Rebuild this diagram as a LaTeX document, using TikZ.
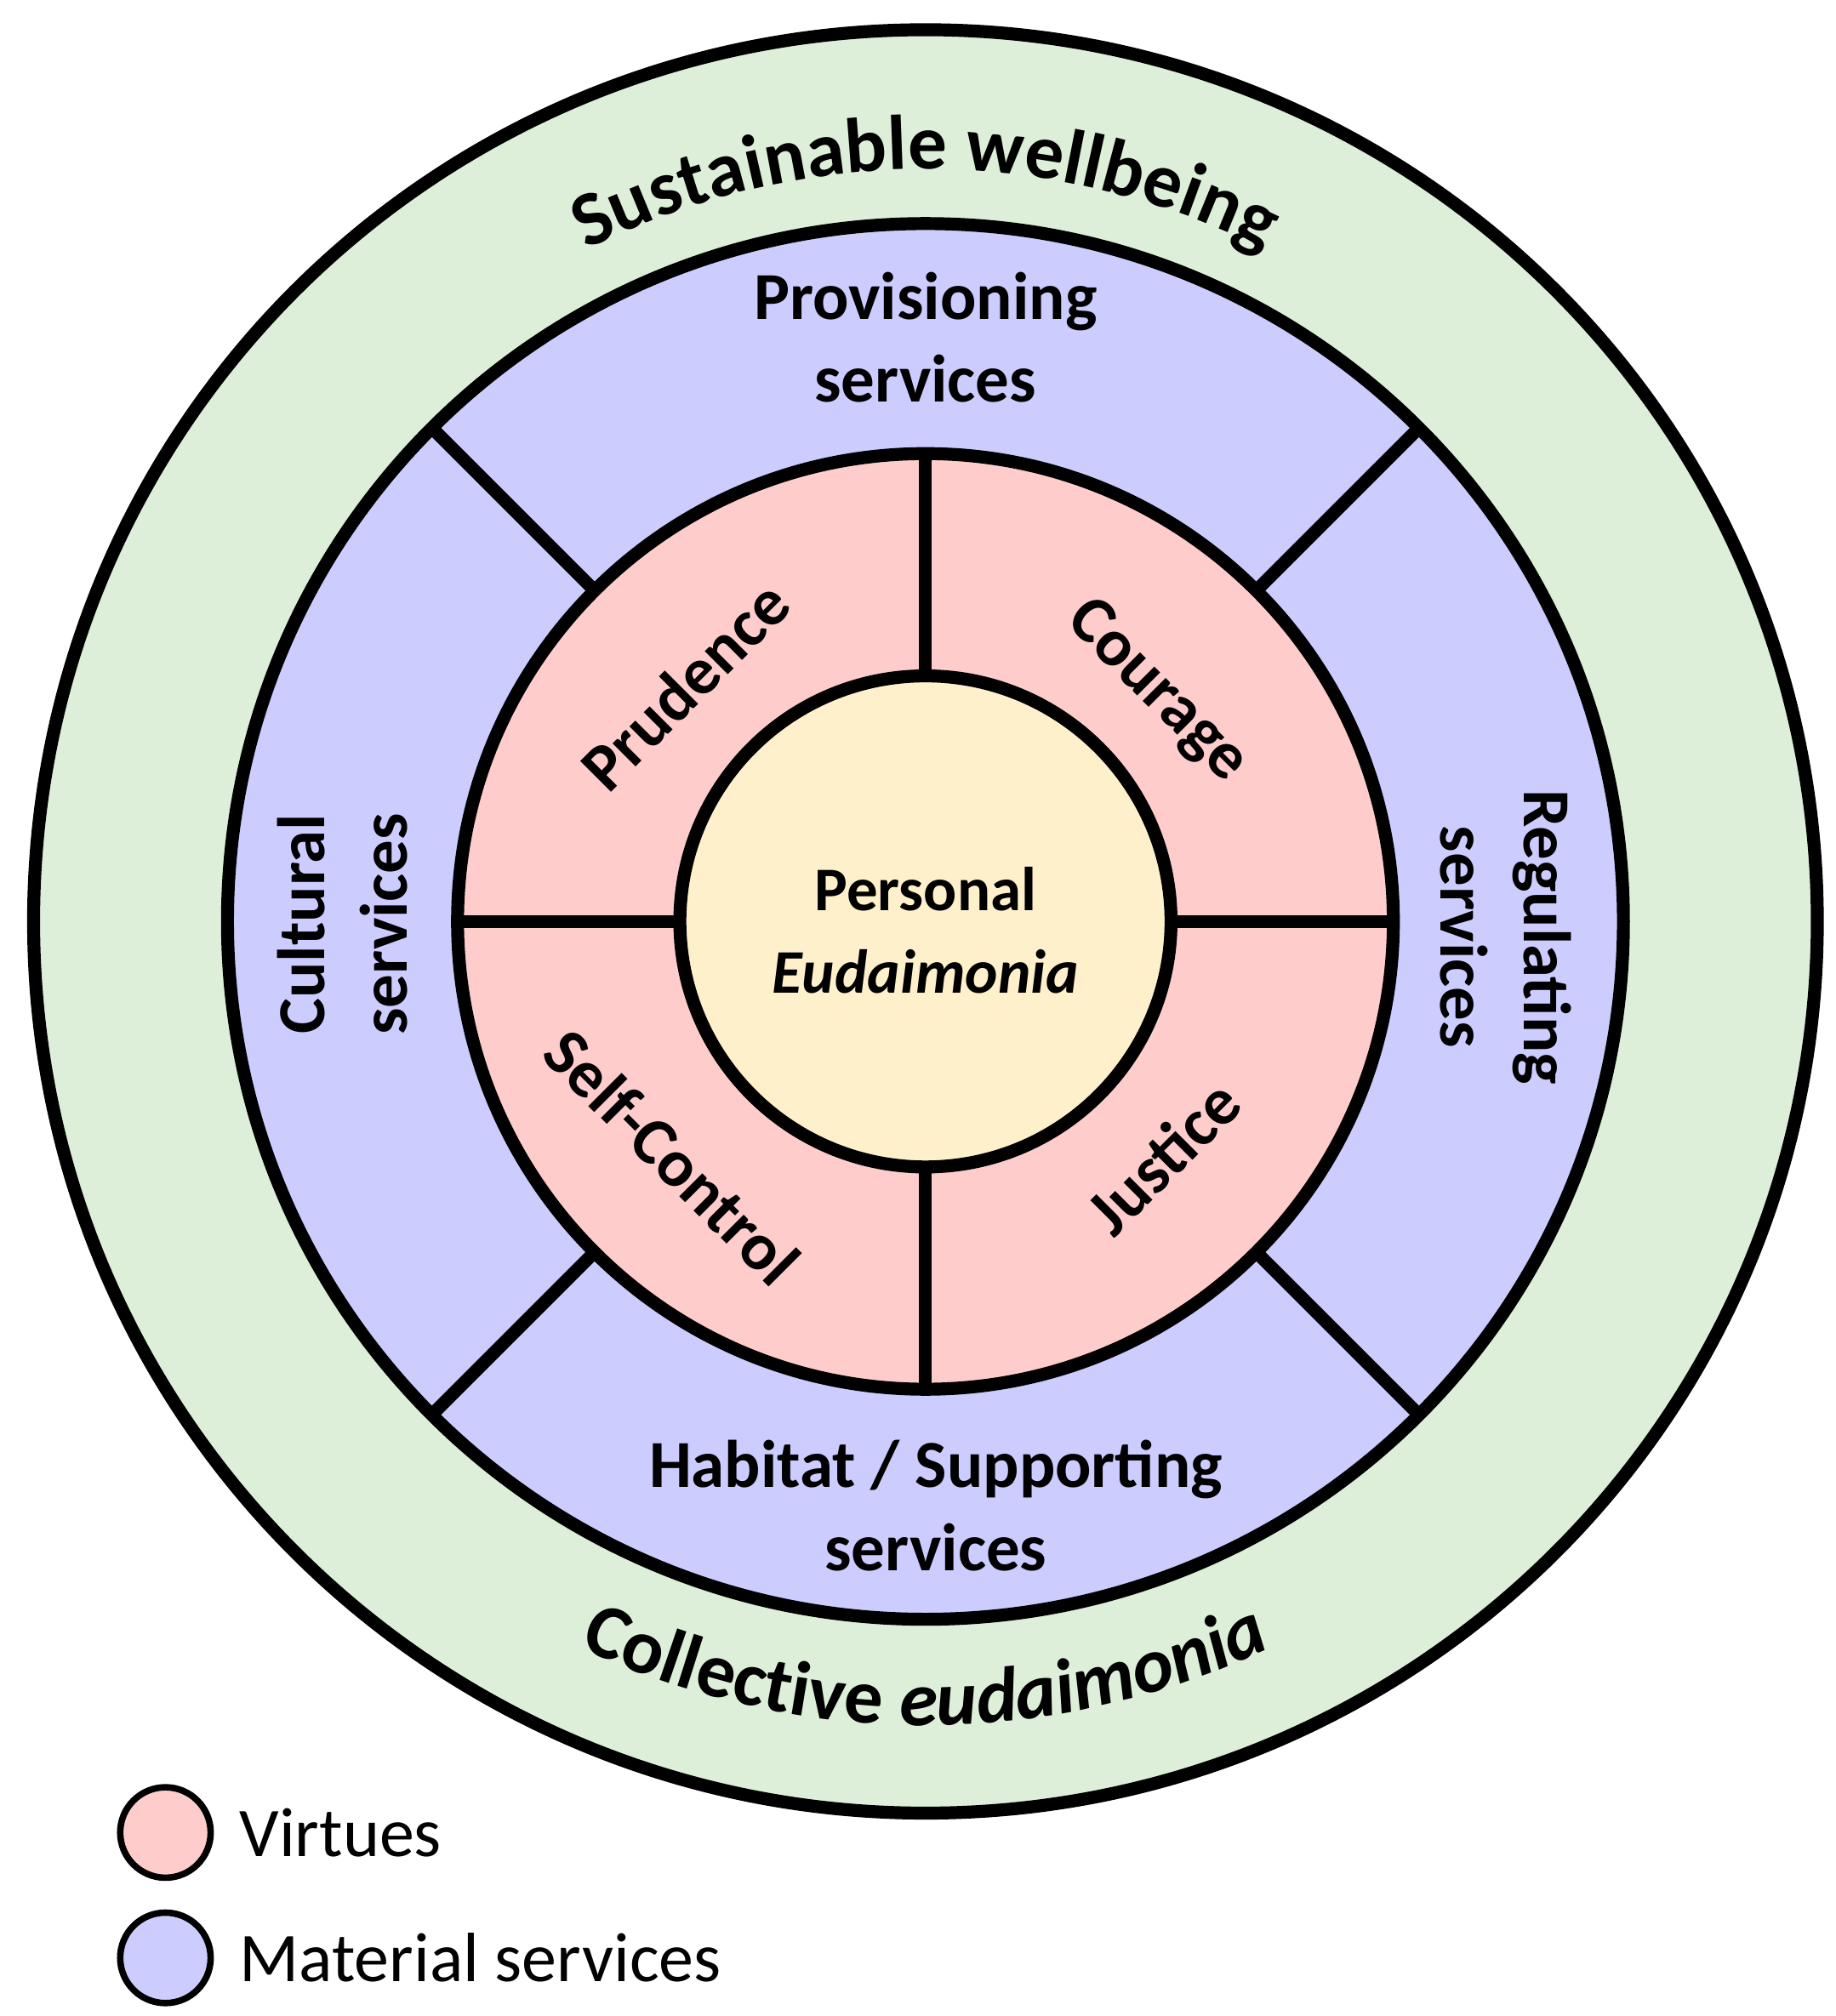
\documentclass[tikz,border=0pt]{standalone}
\usepackage{fontspec}
\setmainfont{Carlito}
\usetikzlibrary{decorations.text}
\definecolor{ringgreen}{RGB}{221,239,217}
\definecolor{ringblue}{RGB}{204,204,255}
\definecolor{ringred}{RGB}{255,204,204}
\definecolor{ringyellow}{RGB}{255,240,204}
\begin{document}
\begin{tikzpicture}[x=1pt,y=1pt
	,ring/.style={draw=black,line width=5pt}
	,divider/.style={draw=black,line width=5pt}
	,lbl/.style={font=\fontsize{26}{32}\selectfont\bfseries,align=center,inner sep=0pt}
	,legtext/.style={font=\fontsize{27}{32}\selectfont,anchor=west,inner sep=0pt}
	]
	\useasboundingbox (-358,356.5) rectangle (352,-423.5);
	% rings
	\draw[ring,fill=ringgreen] (0,0) circle (345);
	\draw[ring,fill=ringblue] (0,0) circle (270);
	\draw[ring,fill=ringred] (0,0) circle (181);
	\foreach \a in {45,135,225,315}
		\draw[divider] (\a:181) -- (\a:270);
	\foreach \a in {0,90,180,270}
		\draw[divider] (\a:95) -- (\a:181);
	\draw[ring,fill=ringyellow] (0,0) circle (95);
	% curved labels
	\path[decorate,decoration={text along path,text align=center,
		text={|\fontsize{30}{36}\selectfont\bfseries|Sustainable wellbeing}}]
		(160:291) arc (160:20:291);
	\path[decorate,decoration={text along path,text align=center,
		text={|\fontsize{30}{36}\selectfont\bfseries|Collective |\fontsize{30}{36}\selectfont\bfseries\itshape|eudaimonia}}]
		(203:311) arc (203:337:311);
	% services
	\node[lbl] (prov) at (0,226) {Provisioning\\services};
	\node[lbl,rotate=-90] (regul) at (224.5,-6) {Regulating\\services};
	\node[lbl,rotate=90] (cult) at (-225.5,-1) {Cultural\\services};
	\node[lbl] (habit) at (4,-226) {Habitat / Supporting\\services};
	% virtues
	\node[lbl,rotate=45] (prud) at (-93,91.5) {Prudence};
	\node[lbl,rotate=-45] (cour) at (89.5,89) {Courage};
	\node[lbl,rotate=-45] (selfc) at (-98,-91) {Self-Control};
	\node[lbl,rotate=45] (just) at (92,-91) {Justice};
	\node[lbl,font=\fontsize{24}{32}\selectfont\bfseries] (pers) at (0,-3.5) {Personal\\\textit{Eudaimonia}};
	% legend
	\draw[line width=2.5pt,fill=ringred] (-294,-352.5) circle (17.5);
	\draw[line width=2.5pt,fill=ringblue] (-294,-401) circle (17.5);
	\node[legtext] (virt) at (-265.5,-352.5) {Virtues};
	\node[legtext] (mat) at (-265.5,-401) {Material services};
\end{tikzpicture}
\end{document}
